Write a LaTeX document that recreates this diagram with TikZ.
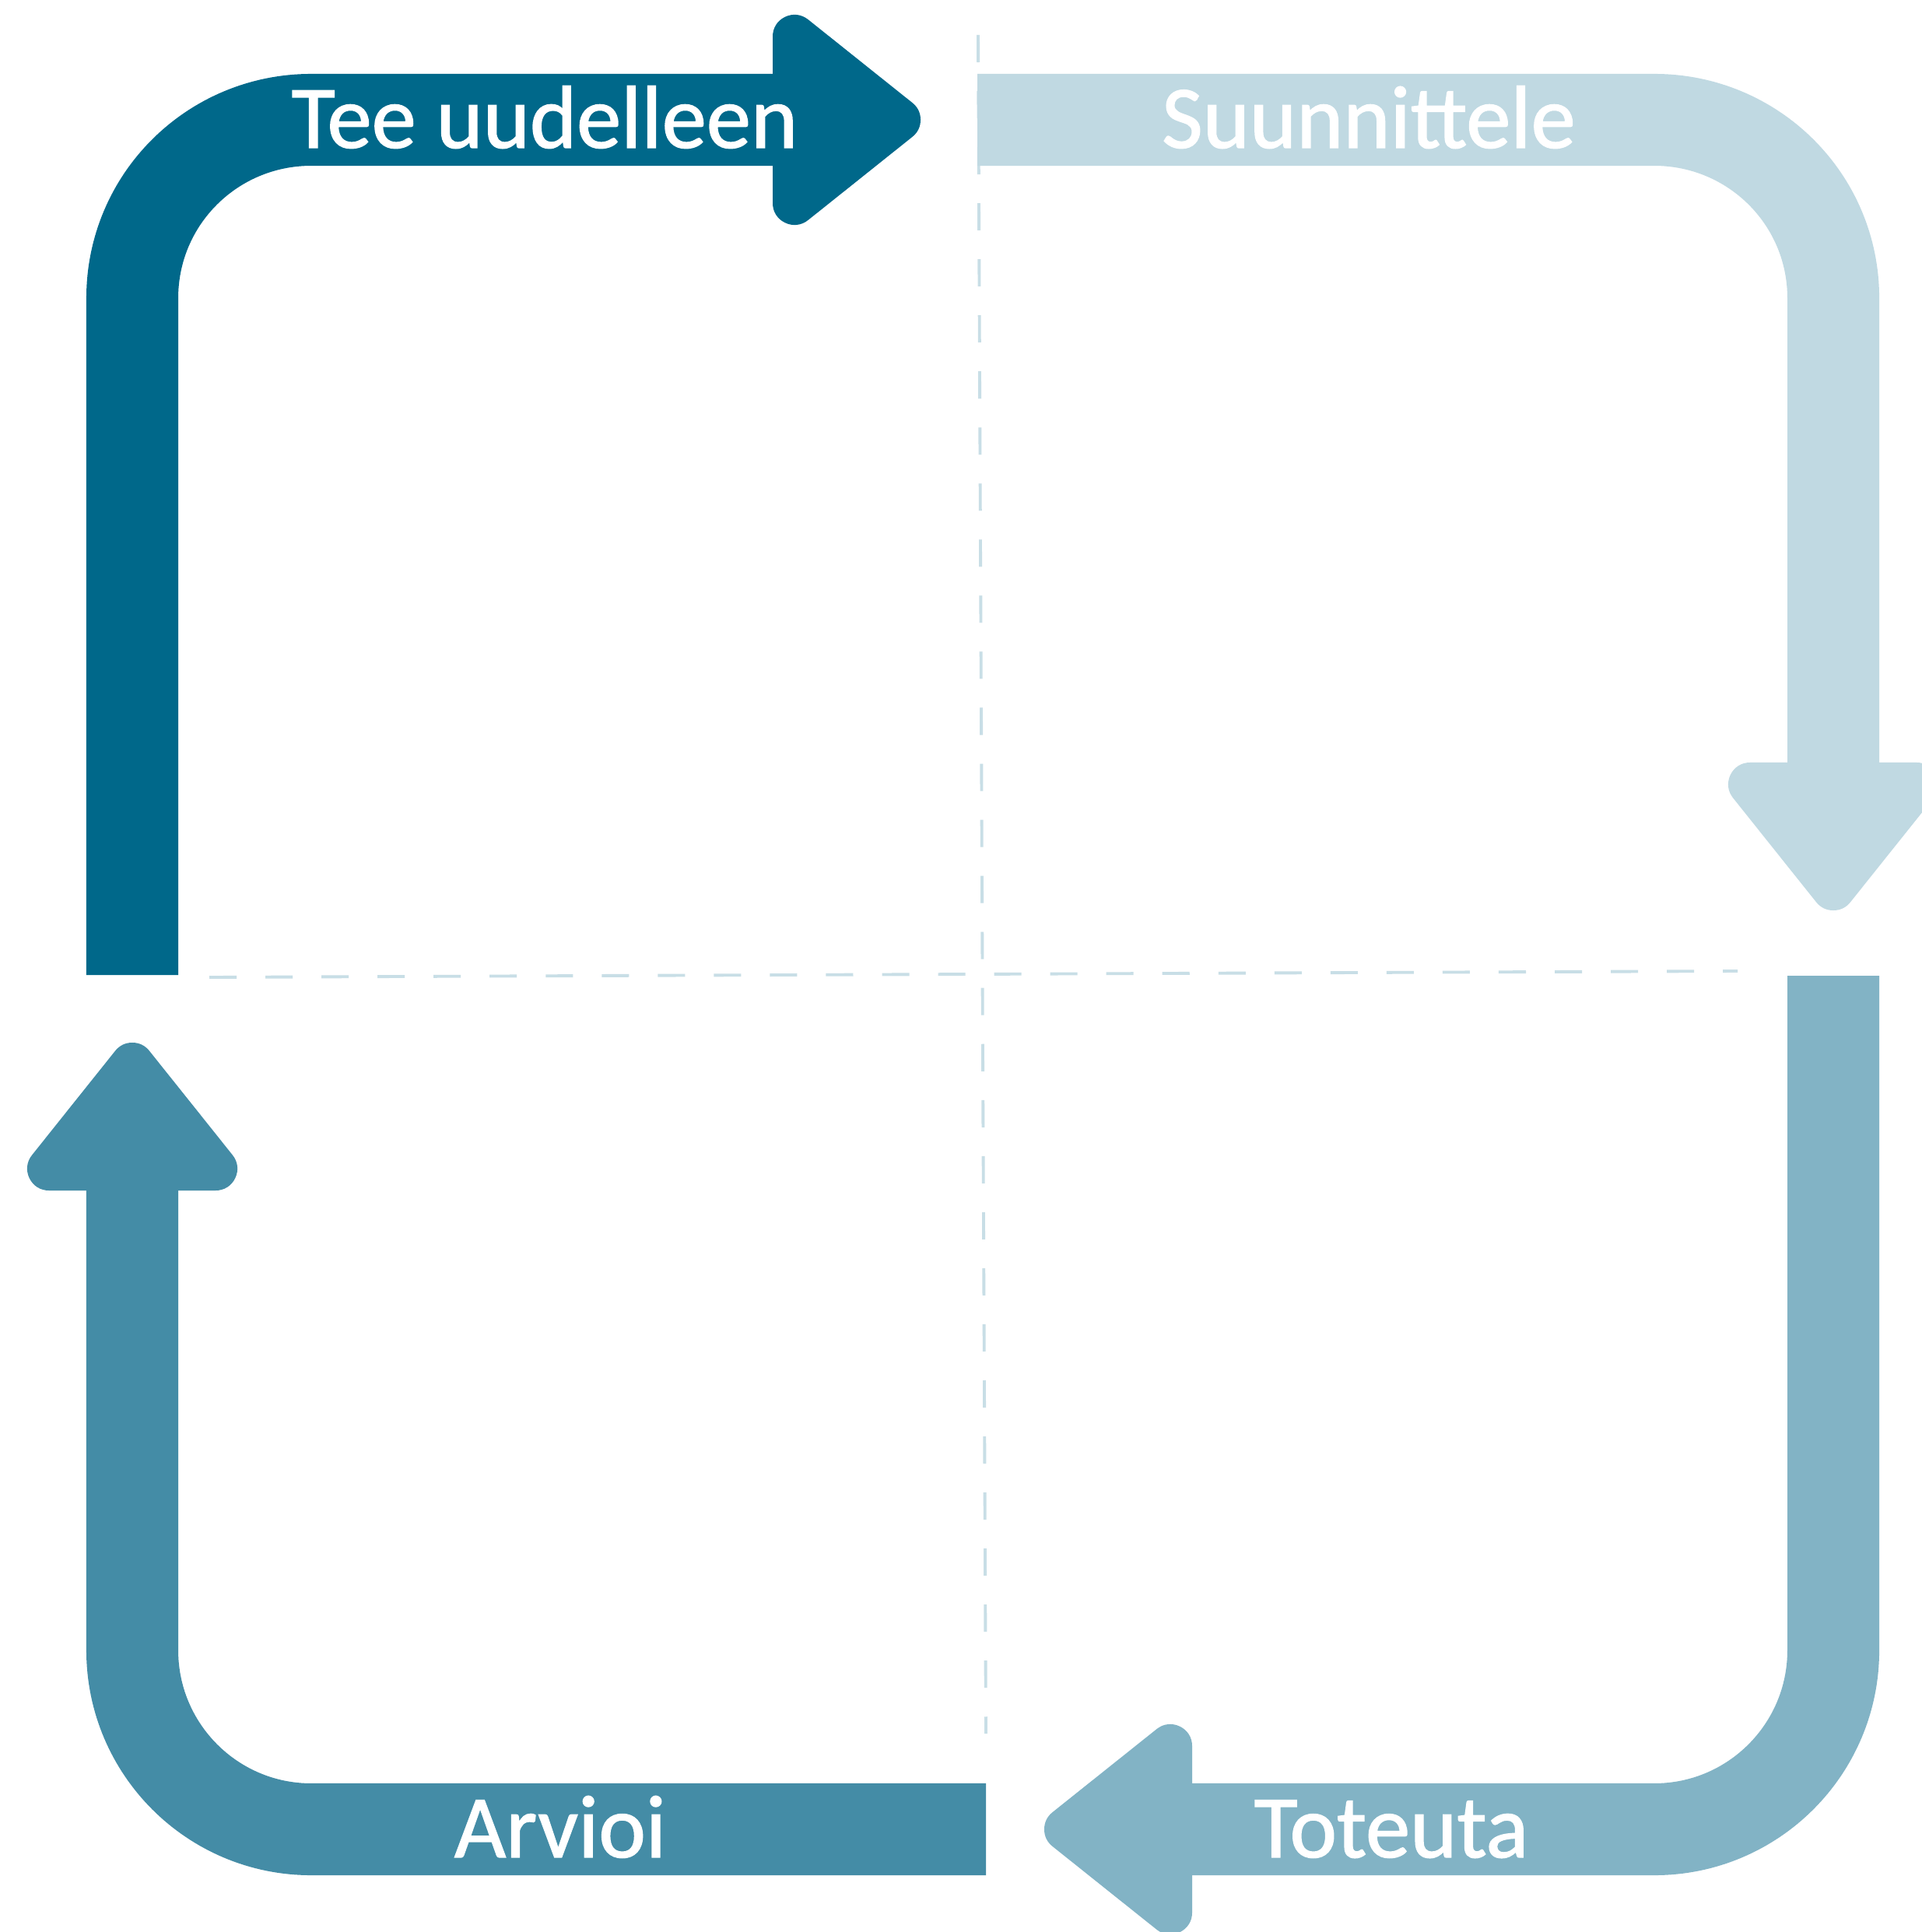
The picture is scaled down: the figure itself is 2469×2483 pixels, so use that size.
\documentclass[tikz,border=0pt]{standalone}
\usepackage{fontspec}
\setmainfont{Carlito}[FakeBold=1.2]
\definecolor{cdark}{RGB}{0,104,138}
\definecolor{clight}{RGB}{192,217,226}
\definecolor{cmidl}{RGB}{130,179,197}
\definecolor{cmid}{RGB}{68,140,166}
\definecolor{cguide}{RGB}{200,222,230}
\begin{document}
\begin{tikzpicture}[x=0.01cm,y=-0.01cm,
  band/.style={line width=1.18cm},
  headshape/.style={line width=0.56cm,line join=round},
  lbl/.style={text=white,font=\fontsize{32.6pt}{38pt}\selectfont,anchor=base,inner sep=0pt},
  guide/.style={draw=cguide,line width=1.1pt,dash pattern=on 0.35cm off 0.37cm}]
\useasboundingbox (0,0) rectangle (2469,2483);
\fill[white] (0,0) rectangle (2469,2483);
% guide lines
\coordinate (vtop) at (1257,45);
\coordinate (vbot) at (1267,2228);
\coordinate (hl) at (269,1256);
\coordinate (hr) at (2233,1248);
\draw[guide] (vtop) -- (vbot);
\draw[guide] (hl) -- (hr);
% top-left (dark)
\coordinate (a1s) at (170,1253);
\coordinate (a1e) at (1000,154);
\draw[band,cdark] (a1s) -- (170,383) .. controls (170,256) and (273,154) .. (400,154) -- (a1e);
\filldraw[cdark,headshape] (1021,47) -- (1155,154) -- (1021,261) -- cycle;
% top-right (light)
\coordinate (a2s) at (1256,154);
\coordinate (a2e) at (2356,987);
\draw[band,clight] (a2s) -- (2126,154) .. controls (2253,154) and (2356,256) .. (2356,383) -- (a2e);
\filldraw[clight,headshape] (2249,1008) -- (2463,1008) -- (2356,1142) -- cycle;
% bottom-right (medium light)
\coordinate (a3s) at (2356,1254);
\coordinate (a3e) at (1525,2351);
\draw[band,cmidl] (a3s) -- (2356,2121) .. controls (2356,2248) and (2253,2351) .. (2126,2351) -- (a3e);
\filldraw[cmidl,headshape] (1504,2244) -- (1504,2458) -- (1370,2351) -- cycle;
% bottom-left (medium)
\coordinate (a4s) at (1267,2351);
\coordinate (a4e) at (170,1523);
\draw[band,cmid] (a4s) -- (400,2351) .. controls (273,2351) and (170,2248) .. (170,2121) -- (a4e);
\filldraw[cmid,headshape] (63,1502) -- (277,1502) -- (170,1368) -- cycle;
% labels
\node[lbl] (tee) at (700,190) {Tee uudelleen};
\node[lbl] (suu) at (1759,190) {Suunnittele};
\node[lbl] (arv) at (720,2387) {Arvioi};
\node[lbl] (tot) at (1788,2387) {Toteuta};
\end{tikzpicture}
\end{document}
